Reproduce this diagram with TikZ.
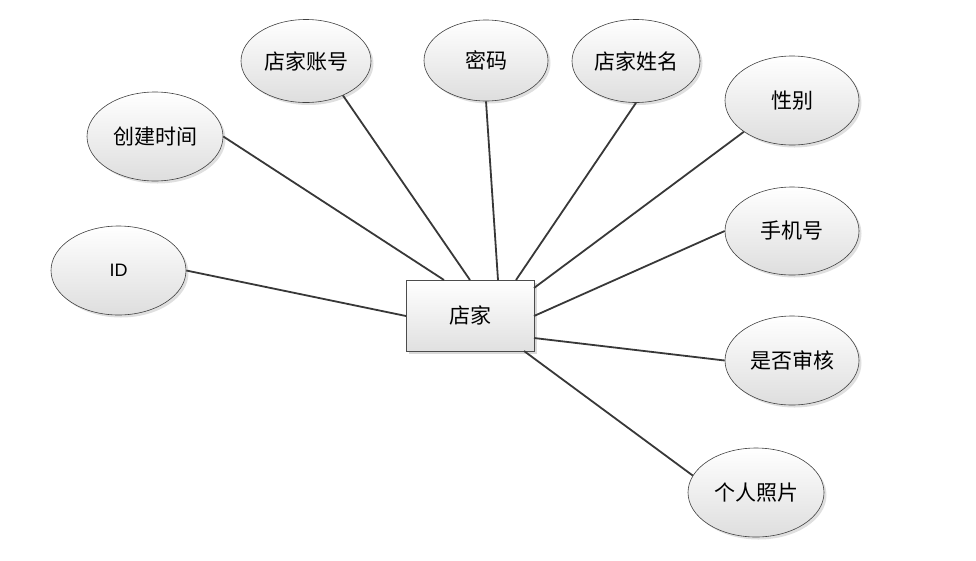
\documentclass[tikz,border=0pt]{standalone}
\usepackage{fontspec}
\setmainfont{Liberation Sans}
\newfontfamily\cjk{Noto Sans CJK SC}
\usetikzlibrary{shapes.geometric,shadows,calc}
\tikzset{
  attr/.style={ellipse, draw=black!75, line width=0.6pt, minimum width=#1, top color=white, bottom color=black!13,
    drop shadow={opacity=0.25, shadow xshift=2.5pt, shadow yshift=-2.5pt}, inner sep=0pt,
    font=\cjk\fontsize{21}{24}\selectfont},
  attr/.default=134pt,
  ent/.style={rectangle, draw=black!70, line width=0.6pt, minimum width=128pt, minimum height=71pt,
    top color=white, bottom color=black!12,
    drop shadow={opacity=0.3, shadow xshift=3pt, shadow yshift=-3pt},
    font=\cjk\fontsize{21}{24}\selectfont},
  link/.style={draw=black!78, line width=1.8pt}
}
\begin{document}
\begin{tikzpicture}[x=1pt,y=-1pt]
\useasboundingbox (0,0) rectangle (976,560);
\node[ent] (e) at (470,315.5) {店家};
\node[attr=130pt, minimum height=83pt] (a1) at (306,61) {店家账号};
\node[attr=124pt, minimum height=81pt] (a2) at (486,60.5) {密码};
\node[attr=128pt, minimum height=83pt] (a3) at (636,61) {店家姓名};
\node[attr=134pt, minimum height=89pt] (a4) at (792,100.5) {性别};
\node[attr=136pt, minimum height=89pt] (a5) at (155,136.5) {创建时间};
\node[attr=135pt, minimum height=89pt, font=\fontsize{18}{22}\selectfont] (a6) at (118.5,270.5) {ID};
\node[attr=134pt, minimum height=88pt] (a7) at (792,231) {手机号};
\node[attr=134pt, minimum height=89pt] (a8) at (792,360.5) {是否审核};
\node[attr=136pt, minimum height=89pt] (a9) at (756,492.5) {个人照片};
\coordinate (p6) at (406,316);
\coordinate (p5) at (444,280);
\coordinate (p1) at (470,280);
\coordinate (p2) at (498,280);
\coordinate (p3) at (516,280);
\coordinate (p4) at (534,288);
\coordinate (p7) at (534,316);
\coordinate (p8) at (534,338);
\coordinate (p9) at (524,351);
\draw[link] (a1.-43) -- (p1);
\draw[link] (a2.south) -- (p2);
\draw[link] (a3.south) -- (p3);
\draw[link] (a4.-147) -- (p4);
\draw[link] (a5.east) -- (p5);
\draw[link] (a6.east) -- (p6);
\draw[link] (a7.west) -- (p7);
\draw[link] (a8.west) -- (p8);
\draw[link] (a9.165) -- (p9);
\end{tikzpicture}
\end{document}
